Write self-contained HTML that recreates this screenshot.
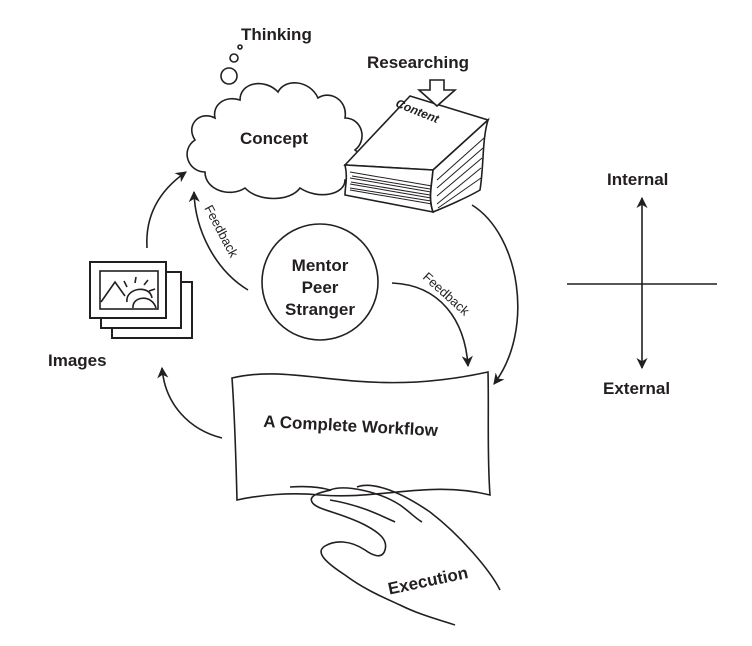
<!DOCTYPE html>
<html><head><style>body{margin:0;background:#fff}svg{display:block}text{font-family:"Liberation Sans",sans-serif;font-weight:bold;fill:#231f20}text.n{font-weight:normal}</style></head><body>
<svg width="752" height="646" viewBox="0 0 752 646" xmlns="http://www.w3.org/2000/svg">
<defs><marker id="ah" viewBox="0 0 10 10" refX="9" refY="5" markerWidth="7" markerHeight="7" orient="auto"><path d="M0,0 L10,5 L0,10 L3,5 Z" fill="#231f20"/></marker></defs>
<g fill="none" stroke="#231f20" stroke-width="1.6">
<circle cx="240" cy="47" r="2"/><circle cx="234" cy="58" r="4"/><circle cx="229" cy="76" r="8"/>
<path d="M215,118 C200,110 185,125 195,140 C180,150 188,172 205,172 C205,190 230,198 245,188 C258,202 290,202 300,188 C318,200 345,195 345,180 C362,180 370,160 355,150 C368,140 362,118 345,118 C348,100 330,90 318,98 C310,80 285,78 278,92 C265,78 240,82 240,100 C225,95 212,105 215,118 Z" fill="#fff"/>
<path d="M345,165 L410,96 L488,120 L433,170 Z" fill="#fff"/>
<path d="M345,165 C348,178 345,186 345,195 L433,212 C428,198 432,184 433,170 Z" fill="#fff"/>
<path d="M433,170 L488,120 C482,140 484,165 480,190 C470,196 448,206 433,212 C428,198 432,184 433,170 Z" fill="#fff"/>
<path d="M350,172 L432,186 M350,178 L431,192 M350,184 L431,198 M350,190 L432,204 M352,176 L430,189 M351,182 L430,195 M350,188 L431,201" stroke-width="1"/>
<path d="M437,180 L484,138 M437,188 L483,148 M437,196 L482,158 M437,204 L481,168 M438,208 L481,178" stroke-width="1"/>
<path d="M430,80 L444,80 L444,90 L455,90 L437,106 L419,90 L430,90 Z" fill="#fff"/>
<circle cx="320" cy="282" r="58"/>
<path d="M472,205 C520,235 535,330 494,384" marker-end="url(#ah)"/>
<path d="M248,290 C215,270 195,230 194,192" marker-end="url(#ah)"/>
<path d="M392,283 C440,285 465,320 468,366" marker-end="url(#ah)"/>
<path d="M147,248 C145,215 160,190 186,172" marker-end="url(#ah)"/>
<path d="M222,438 C190,430 165,405 162,368" marker-end="url(#ah)"/>
<rect x="112" y="282" width="80" height="56" fill="#fff" stroke-width="2"/>
<rect x="101" y="272" width="80" height="56" fill="#fff" stroke-width="2"/>
<rect x="90" y="262" width="76" height="56" fill="#fff" stroke-width="2"/>
<rect x="100" y="271" width="58" height="38"/>
<path d="M101,302 L115,282 L125,296"/>
<path d="M127,302 C125,288 150,284 152,298 M133,308 C132,296 152,294 156,308" />
<path d="M127,287 L124,281 M135,283 L136,277 M144,285 L148,280 M149,291 L155,289"/>
<path d="M232,378 C300,362 360,400 488,372 C489,410 487,455 490,495 C430,480 380,500 320,495 C290,492 260,495 237,500 C236,460 235,420 232,378 Z" fill="#fff"/>
<path d="M290,487 C305,486 320,487 330,490"/>
<path d="M331,490 C322,492 308,495 312,502 C316,510 340,512 365,525 C380,533 388,540 385,550 C382,560 372,555 365,550 C350,540 335,540 325,546 C315,552 325,562 345,575 C365,590 385,598 400,605 C420,615 440,620 455,625"/>
<path d="M330,490 C345,484 380,492 400,505 C410,512 415,518 422,522"/>
<path d="M357,487 C370,482 395,488 430,512 C460,535 490,570 500,590"/>
<path d="M330,500 C360,505 380,515 395,522"/>
<path d="M388,540 L388,540"/>
<path d="M567,284 L717,284"/>
<path d="M642,284 L642,198" marker-end="url(#ah)"/>
<path d="M642,284 L642,368" marker-end="url(#ah)"/>
</g>
<text x="241" y="40" font-size="17">Thinking</text>
<text x="367" y="68" font-size="17">Researching</text>
<text x="240" y="144" font-size="17">Concept</text>
<text x="390" y="119" font-size="12" transform="rotate(22 425 125)" font-style="italic">Content</text>
<text x="320" y="271" font-size="17" text-anchor="middle">Mentor</text>
<text x="320" y="293" font-size="17" text-anchor="middle">Peer</text>
<text x="320" y="315" font-size="17" text-anchor="middle">Stranger</text>
<text class="n" x="0" y="0" font-size="13" transform="translate(204,208) rotate(62)">Feedback</text>
<text class="n" x="0" y="0" font-size="13" transform="translate(422,278) rotate(42)">Feedback</text>
<text x="48" y="366" font-size="17">Images</text>
<text x="263" y="432" font-size="17" transform="rotate(3 360 432)">A Complete Workflow</text>
<text x="387" y="588" font-size="17" transform="rotate(-12 420 580)">Execution</text>
<text x="607" y="185" font-size="17">Internal</text>
<text x="603" y="394" font-size="17">External</text>
</svg>
</body></html>
